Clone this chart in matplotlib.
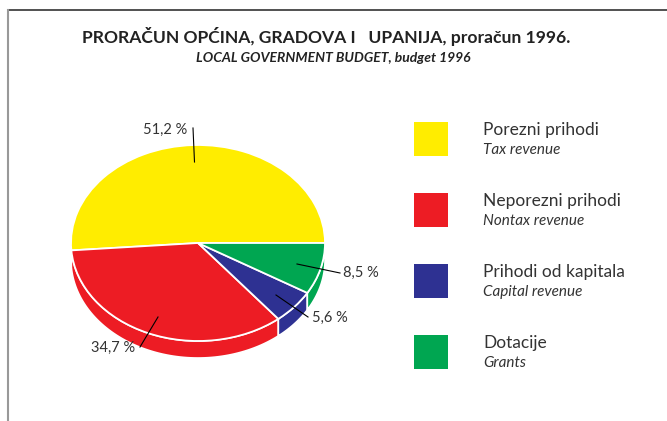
import numpy as np
import matplotlib
matplotlib.use('Agg')
import matplotlib.pyplot as plt
from matplotlib.patches import Polygon, Rectangle

# data
labels_hr = ['Porezni prihodi', 'Neporezni prihodi', 'Prihodi od kapitala', 'Dotacije']
labels_en = ['Tax revenue', 'Nontax revenue', 'Capital revenue', 'Grants']
shares = [51.2, 34.7, 5.6, 8.5]
pct_labels = ['51,2 %', '34,7 %', '5,6 %', '8,5 %']
colors = ['#FFED00', '#ED1C24', '#2E3192', '#00A651']

title = 'PRORAČUN OPĆINA, GRADOVA I   UPANIJA, proračun 1996.'
subtitle = 'LOCAL GOVERNMENT BUDGET, budget 1996'

plt.rcParams['font.family'] = ['Lato', 'DejaVu Sans']

W, H = 667, 421
fig = plt.figure(figsize=(W / 100, H / 100), dpi=100)

# pie geometry in pixels: centre, half axes, side depth
cx, cy, rx, ry, depth = 198, 243, 127, 98, 17

ax = fig.add_axes([0, 0, 1, 1])

# side of the pie (lower half only), drawn before the top face
d = depth / ry
bounds = np.concatenate([[0], np.cumsum(shares)]) / 100 * 360
for i, c in enumerate(colors):
    t0, t1 = bounds[i], bounds[i + 1]
    a0, a1 = max(t0, 180), min(t1, 360)
    if a1 <= a0:
        continue
    t = np.radians(np.linspace(a0, a1, 80))
    top = np.column_stack([np.cos(t), np.sin(t)])
    bot = top - [0, d]
    poly = np.vstack([top, bot[::-1]])
    ax.add_patch(Polygon(poly, closed=True, facecolor=c, edgecolor='white', lw=1.2, zorder=1))

wedges, _ = ax.pie(shares, colors=colors, startangle=0, counterclock=True,
                   wedgeprops=dict(edgecolor='white', linewidth=1.3), frame=True)
for w in wedges:
    w.set_zorder(2)

ax.set_aspect('auto')
ax.set_xlim((0 - cx) / rx, (W - cx) / rx)
ax.set_ylim((cy - H) / ry, (cy - 0) / ry)
ax.axis('off')

def px(x, y):
    return (x - cx) / rx, (cy - y) / ry

# leader lines and percentage labels (pixel positions)
leaders = [((193, 128), (194.5, 162)), ((140, 347), (158, 317)),
           ((308, 317), (276, 295)), ((340, 273), (297, 264))]
text_pos = [((187, 130), 'right'), ((135, 348), 'right'),
            ((312, 318), 'left'), ((343, 273), 'left')]
for (p0, p1), (tp, ha), lab in zip(leaders, text_pos, pct_labels):
    x0, y0 = px(*p0)
    x1, y1 = px(*p1)
    ax.plot([x0, x1], [y0, y1], color='black', lw=0.8, zorder=3)
    tx, ty = px(*tp)
    ax.text(tx, ty, lab, ha=ha, va='center', fontsize=10.5, color='#333333', zorder=4)

# legend
for i, c in enumerate(colors):
    top = 122 + i * 71
    fig.add_artist(Rectangle((414 / W, 1 - (top + 34) / H), 34 / W, 34 / H,
                             transform=fig.transFigure, facecolor=c, edgecolor='none'))
    fig.text(483 / W, 1 - (top + 8) / H, labels_hr[i], fontsize=12.5,
             color='#333333', va='center', ha='left')
    fig.text(483 / W, 1 - (top + 28) / H, labels_en[i], fontsize=11,
             style='italic', color='#333333', va='center', ha='left')

# titles
fig.text(326 / W, 1 - 37 / H, title, fontsize=12.6, fontweight='bold',
         color='#222222', ha='center', va='center')
fig.text(333 / W, 1 - 58 / H, subtitle, fontsize=10, fontweight='bold',
         style='italic', color='#222222', ha='center', va='center')

# frame lines
fig.add_artist(plt.Line2D([7.5 / W, 1], [1 - 10 / H, 1 - 10 / H],
                          transform=fig.transFigure, color='#333333', lw=1.2))
fig.add_artist(plt.Line2D([7.5 / W, 7.5 / W], [0, 1 - 10 / H],
                          transform=fig.transFigure, color='#999999', lw=1.5))

fig.savefig('out.png', dpi=100)
